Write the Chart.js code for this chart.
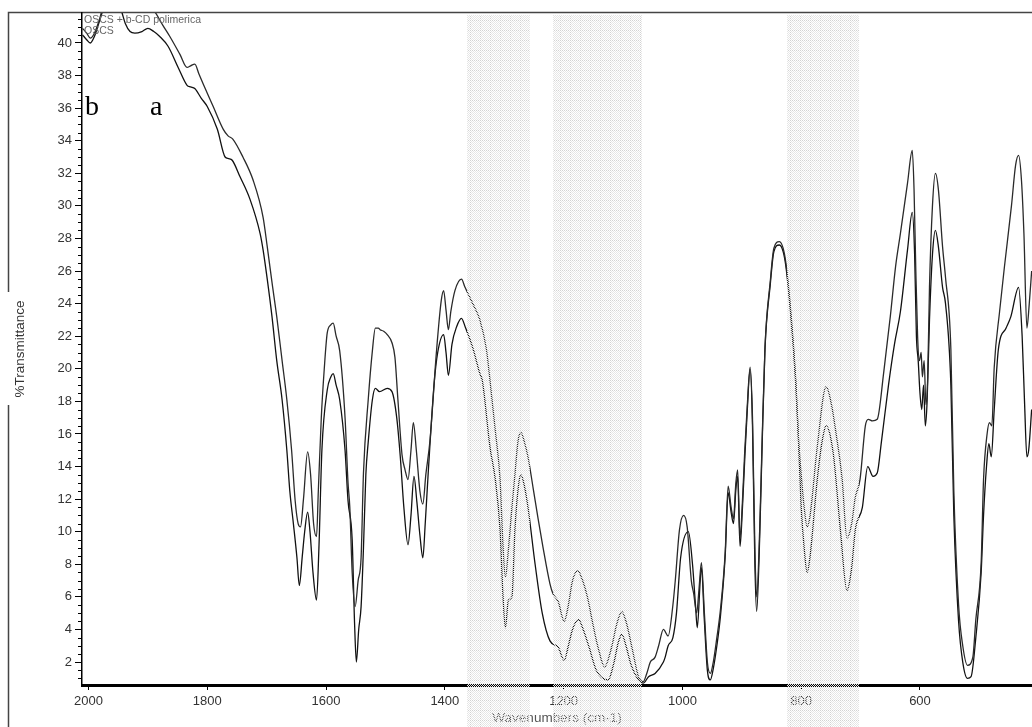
<!DOCTYPE html>
<html>
<head>
<meta charset="utf-8">
<script src="https://cdn.jsdelivr.net/npm/chart.js@4.4.0/dist/chart.umd.min.js"></script>
<style>
  html, body { margin: 0; padding: 0; background: #fff; }
  #wrap { position: relative; width: 1032px; height: 727px; }
</style>
</head>
<body>
<div id="wrap"><canvas id="ir-chart"></canvas></div>
<script>
// upper spectrum (OSCS + b-CD polimerica)
var wnUpper = [
  2010,2003,1997,1990,1981,1975,1960,1930,1900,1888,
  1875,1863,1846,1834,1828,1821,1814,1807,1790,1773,
  1765,1757,1740,1723,1706,1699,1691,1683,1674,1666,
  1658,1652,1647,1643,1638,1631,1626,1621,1616,1613,
  1608,1603,1598,1592,1588,1583,1577,1568,1563,1560,
  1556,1551,1546,1541,1537,1529,1522,1517,1512,1509,
  1503,1497,1489,1484,1479,1472,1467,1462,1457,1453,
  1448,1442,1437,1432,1425,1414,1406,1402,1398,1394,
  1390,1383,1372,1366,1353,1341,1330,1324,1315,1307,
  1302,1298,1293,1287,1282,1277,1272,1266,1260,1251,
  1243,1235,1223,1218,1209,1199,1192,1185,1176,1168,
  1160,1150,1142,1131,1120,1110,1102,1095,1085,1074,
  1066,1060,1054,1046,1040,1032,1024,1016,1012,1005,
  998,992,985,981,976,972,968,963,958,953,
  948,942,936,928,923,918,914,910,907,903,
  899,895,891,886,882,878,875,870,866,861,
  852,846,837,827,818,809,805,800,795,790,
  785,773,758,749,742,731,723,715,709,701,
  692,687,680,672,661,650,641,633,621,613,
  610,607,604,601,598,596,593,590,587,584,
  579,574,569,562,557,548,543,535,528,520,
  511,506,497,493,487,483,479,475,466,458,
  446,439,434,429,425,420,416,412
];
var tUpper = [
  40.9,40.6,40.3,40.6,41.5,42.3,42.8,42.6,42.4,41.9,
  41.1,40.4,39.3,38.5,38.6,38.7,38.1,37.5,36.1,34.7,
  34.3,34.1,33.0,31.6,29.3,27.5,25.3,23.2,20.5,18.1,
  15.0,11.9,10.5,10.3,12.0,14.9,13.5,10.5,9.7,12.5,
  17.0,20.0,22.2,22.7,22.8,22.0,21.1,17.0,13.0,11.5,
  7.5,5.4,7.0,8.4,13.6,18.1,21.1,22.5,22.5,22.4,
  22.3,22.1,21.6,20.7,18.1,14.7,13.8,13.2,15.0,16.7,
  15.0,12.5,11.7,13.5,15.6,21.1,24.2,24.8,23.6,22.4,
  23.5,24.8,25.5,25.0,24.0,23.0,21.2,19.3,16.2,13.2,
  9.1,7.2,8.9,11.5,13.5,15.5,16.1,15.5,14.6,12.6,
  10.8,9.1,6.8,6.2,5.7,4.5,5.5,7.0,7.6,7.0,
  6.0,4.2,2.9,1.7,2.8,4.4,5.1,4.5,2.9,1.1,
  0.8,1.3,2.0,2.3,3.0,4.0,3.6,5.5,7.0,10.1,
  11.0,10.3,7.0,6.2,5.0,6.5,8.1,5.0,2.0,1.3,
  2.0,3.5,5.2,8.7,12.8,11.5,10.8,13.0,13.8,9.6,
  11.8,15.0,17.6,20.1,17.0,9.0,6.0,10.0,15.3,21.3,
  25.4,27.4,27.8,26.8,23.7,19.2,16.0,13.5,11.5,10.3,
  11.0,15.2,18.9,17.8,16.2,13.2,9.6,10.5,12.1,13.2,
  16.5,16.9,16.8,16.9,19.8,23.2,26.3,28.3,31.4,33.4,
  31.0,26.0,22.0,20.5,21.0,19.5,20.5,17.8,19.5,25.0,
  30.0,32.0,31.0,27.5,25.6,21.2,12.5,5.5,3.0,1.8,
  2.3,4.6,8.1,13.2,16.0,16.7,16.5,20.1,23.5,26.2,
  30.0,32.5,33.1,31.5,28.3,22.5,24.0,26.0
];

// lower spectrum (OSCS)
var wnLower = [
  2010,2003,1997,1990,1981,1972,1955,1945,1938,1930,
  1922,1910,1900,1890,1880,1866,1849,1834,1828,1821,
  1810,1800,1783,1770,1764,1758,1745,1728,1711,1706,
  1699,1691,1683,1674,1666,1661,1655,1649,1645,1640,
  1636,1631,1627,1622,1616,1612,1607,1598,1592,1588,
  1583,1577,1568,1563,1556,1552,1549,1545,1541,1537,
  1533,1529,1522,1517,1510,1497,1489,1481,1475,1469,
  1462,1457,1452,1447,1442,1437,1433,1428,1418,1412,
  1402,1398,1394,1388,1380,1372,1365,1353,1341,1337,
  1324,1315,1307,1302,1298,1293,1287,1282,1277,1272,
  1266,1260,1248,1236,1223,1209,1199,1192,1185,1175,
  1167,1157,1145,1125,1115,1108,1102,1095,1087,1074,
  1066,1057,1046,1032,1029,1024,1016,1010,1003,990,
  983,978,975,970,968,963,958,953,948,942,
  936,928,923,918,914,910,907,903,899,895,
  891,886,882,878,875,870,866,861,852,846,
  837,827,818,809,805,800,795,790,785,773,
  765,758,746,734,723,715,709,697,688,679,
  672,665,653,643,633,621,613,609,606,603,
  600,597,594,591,588,584,579,574,569,562,
  557,548,543,535,528,520,514,506,497,493,
  488,484,480,475,468,455,447,434,428,424,
  420,417,412
];
var tLower = [
  40.5,40.2,40.0,40.4,41.4,42.3,42.5,42.0,41.2,40.7,
  40.6,40.7,40.9,40.7,40.4,39.8,38.5,37.4,37.3,37.2,
  36.6,36.1,34.7,33.0,32.9,32.8,31.8,30.4,28.3,27.3,
  25.5,23.2,20.5,18.1,15.0,12.5,10.5,8.4,6.7,8.5,
  10.0,11.2,10.0,7.5,5.8,9.0,15.0,18.7,19.5,19.7,
  19.0,18.1,15.0,11.9,9.5,4.4,2.0,4.0,5.4,9.0,
  13.5,15.5,18.1,18.8,18.6,18.8,18.6,17.0,14.6,11.5,
  9.2,11.0,13.4,11.8,9.8,8.4,10.5,13.6,19.1,21.0,
  22.1,21.0,19.6,21.5,22.6,23.1,22.5,21.3,19.7,19.3,
  15.2,13.2,10.1,6.0,4.1,5.8,6.0,10.1,12.5,13.5,
  12.8,11.5,8.0,5.0,3.3,2.9,2.1,3.0,4.0,4.6,
  4.0,2.9,1.5,0.9,2.0,3.2,3.7,3.0,1.9,0.9,
  0.7,1.1,1.3,2.0,2.3,3.0,3.5,5.0,8.4,10.0,
  8.0,5.5,4.1,7.0,7.8,4.5,1.5,0.9,1.6,3.0,
  4.8,8.5,12.4,11.2,10.5,12.6,13.4,9.1,11.4,14.5,
  17.3,20.0,16.5,8.0,5.1,9.5,15.0,21.2,25.2,27.2,
  27.6,26.6,23.5,19.0,16.0,11.5,9.0,7.5,8.5,13.2,
  15.5,16.5,14.8,10.1,6.4,7.8,10.1,11.5,14.0,13.4,
  13.6,15.5,19.0,21.5,23.5,27.3,29.6,27.0,22.0,20.5,
  18.5,17.5,19.0,16.5,18.0,23.0,27.0,28.5,27.5,25.0,
  24.0,19.0,11.0,4.5,2.0,1.0,1.1,3.5,7.5,11.0,
  14.0,15.4,14.6,17.5,21.2,22.5,23.2,25.0,22.0,18.0,
  14.6,15.0,17.5
];

var xTicks = [2000, 1800, 1600, 1400, 1200, 1000, 800, 600];
var yTicks = [2,4,6,8,10,12,14,16,18,20,22,24,26,28,30,32,34,36,38,40];

// shaded regions, wavenumbers
var bandFrom = [1362, 1218, 824];
var bandTo = [1257, 1068, 703];

var FONT = 'Arial, "Liberation Sans", sans-serif';

function toPoints(wn, t) {
    let pts = [];
    for (let i = 0; i < wn.length; i++) {
        pts.push({x: wn[i], y: t[i]});
    }
    return pts;
};

// light checker with a faint 10px grid, like the selection shading
function bandPattern(ctx) {
    let c = document.createElement('canvas');
    c.width = 10;
    c.height = 10;
    let p = c.getContext('2d');
    for (let i = 0; i < 10; i++) {
        for (let j = 0; j < 10; j++) {
            if ((i + j) % 2 !== 0) continue;
            p.fillStyle = (i === 0 || j === 0) ? '#d2d2d2' : '#e6e6e6';
            p.fillRect(i, j, 1, 1);
        }
    }
    return ctx.createPattern(c, 'repeat');
};

var decor = {
    id: 'decor',
    beforeDraw: function (chart) {
        let ctx = chart.ctx;
        ctx.save();
        ctx.fillStyle = '#fff';
        ctx.fillRect(0, 0, chart.width, chart.height);
        // outer frame, with a gap for the y title
        ctx.strokeStyle = '#444';
        ctx.lineWidth = 1.5;
        ctx.beginPath();
        ctx.moveTo(chart.width, 12.5);
        ctx.lineTo(8.5, 12.5);
        ctx.lineTo(8.5, 292);
        ctx.moveTo(8.5, 405);
        ctx.lineTo(8.5, chart.height);
        ctx.stroke();
        ctx.restore();
    },
    afterDraw: function (chart) {
        let ctx = chart.ctx;
        let area = chart.chartArea;
        let ys = chart.scales.y;
        let xs = chart.scales.x;
        ctx.save();

        // minor y ticks every 0.5
        ctx.strokeStyle = '#000';
        ctx.lineWidth = 1;
        ctx.beginPath();
        for (let v = 1; v <= 41.5; v += 0.5) {
            if (v % 2 === 0) continue;
            let py = Math.round(ys.getPixelForValue(v)) + 0.5;
            ctx.moveTo(area.left - 4, py);
            ctx.lineTo(area.left, py);
        }
        ctx.stroke();

        // legend text
        ctx.fillStyle = '#666';
        ctx.font = '10.5px ' + FONT;
        ctx.textBaseline = 'top';
        ctx.fillText(chart.data.datasets[0].label, area.left + 2, 15);
        ctx.fillText(chart.data.datasets[1].label, area.left + 2, 26);

        // curve letters
        ctx.fillStyle = '#000';
        ctx.font = '28px "Liberation Serif", "Times New Roman", serif';
        ctx.textBaseline = 'alphabetic';
        ctx.fillText('b', 85, 115);
        ctx.fillText('a', 150, 115);

        // shaded bands on top
        ctx.fillStyle = bandPattern(ctx);
        for (let i = 0; i < bandFrom.length; i++) {
            let x1 = Math.round(xs.getPixelForValue(bandFrom[i]));
            let x2 = Math.round(xs.getPixelForValue(bandTo[i]));
            ctx.fillRect(x1, area.top + 2, x2 - x1, chart.height - area.top - 2);
        }
        ctx.restore();
    }
};

const ctx = document.getElementById('ir-chart');

new Chart(ctx, {
    type: 'line',
    data: {
        datasets: [{
            label: 'OSCS + b-CD polimerica',
            data: toPoints(wnUpper, tUpper),
            borderColor: '#2a2a2a',
            borderWidth: 1.3,
            pointRadius: 0,
            cubicInterpolationMode: 'monotone',
            clip: 0
        }, {
            label: 'OSCS',
            data: toPoints(wnLower, tLower),
            borderColor: '#111',
            borderWidth: 1.3,
            pointRadius: 0,
            cubicInterpolationMode: 'monotone',
            clip: 0
        }]
    },
    options: {
        responsive: true,
        maintainAspectRatio: false,
        animation: false,
        layout: {
            padding: {top: 13, left: 0, right: 0, bottom: 0}
        },
        plugins: {
            legend: {display: false},
            tooltip: {enabled: false}
        },
        scales: {
            x: {
                type: 'linear',
                reverse: true,
                min: 411.4,
                max: 2010.9,
                afterFit: function (s) { s.height = 42; },
                afterBuildTicks: function (s) {
                    s.ticks = xTicks.map(function (v) { return {value: v}; });
                },
                grid: {
                    drawOnChartArea: false,
                    tickLength: 5,
                    color: '#000'
                },
                border: {color: '#000', width: 3},
                ticks: {
                    autoSkip: false,
                    maxRotation: 0,
                    color: '#333',
                    padding: 4,
                    font: {family: FONT, size: 13},
                    callback: function (v) { return String(v); }
                },
                title: {
                    display: true,
                    text: 'Wavenumbers (cm-1)',
                    color: '#555',
                    font: {family: FONT, size: 13.5},
                    padding: {top: 0, bottom: 1}
                }
            },
            y: {
                type: 'linear',
                min: 0.59,
                max: 41.84,
                afterFit: function (s) { s.width = 82; },
                afterBuildTicks: function (s) {
                    s.ticks = yTicks.map(function (v) { return {value: v}; });
                },
                grid: {
                    drawOnChartArea: false,
                    tickLength: 7,
                    color: '#000'
                },
                border: {color: '#000', width: 1.5},
                ticks: {
                    color: '#333',
                    padding: 3,
                    font: {family: FONT, size: 13},
                    callback: function (v) { return String(v); }
                },
                title: {
                    display: true,
                    text: '%Transmittance',
                    color: '#333',
                    font: {family: FONT, size: 13.5},
                    padding: {top: 12, bottom: 0}
                }
            }
        }
    },
    plugins: [decor]
});
</script>
</body>
</html>
